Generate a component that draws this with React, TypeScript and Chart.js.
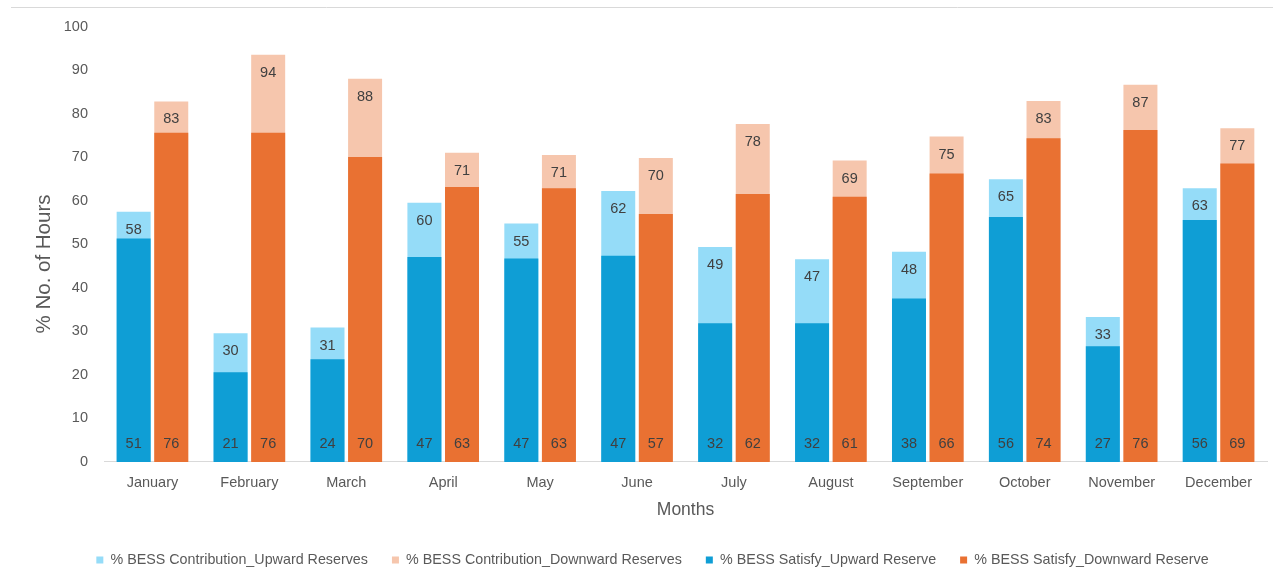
import React, { useEffect, useRef } from 'react';
import { Chart, registerables } from 'chart.js';

Chart.register(...registerables);

const months = ['January', 'February', 'March', 'April', 'May', 'June', 'July', 'August', 'September', 'October', 'November', 'December'];

const contributionUpward = [57.5, 29.6, 30.9, 59.6, 54.8, 62.3, 49.4, 46.6, 48.3, 65.0, 33.3, 62.9];
const contributionDownward = [82.9, 93.6, 88.1, 71.1, 70.6, 69.9, 77.7, 69.3, 74.8, 83.0, 86.7, 76.7];
const satisfyUpward = [51.4, 20.6, 23.6, 47.1, 46.8, 47.4, 31.9, 31.9, 37.6, 56.3, 26.6, 55.6];
const satisfyDownward = [75.7, 75.7, 70.1, 63.2, 62.9, 57.0, 61.6, 61.0, 66.3, 74.4, 76.3, 68.6];

const seriesNames = [
  '% BESS Contribution_Upward Reserves',
  '% BESS Contribution_Downward Reserves',
  '% BESS Satisfy_Upward Reserve',
  '% BESS Satisfy_Downward Reserve',
];

const yAxisTitle = '% No. of Hours';
const xAxisTitle = 'Months';

const FONT = "'Liberation Sans', Arial, sans-serif";
const TEXT = '#595959';
const LABEL = '#404040';

const decorPlugin = {
  id: 'decor',
  afterLayout(chart: any) {
    const lg = chart.legend;
    if (lg) {
      lg.left += 19;
      lg.right += 19;
    }
  },
  beforeDraw(chart: any) {
    const ctx = chart.ctx;
    ctx.save();
    ctx.strokeStyle = '#d9d9d9';
    ctx.lineWidth = 1;
    ctx.beginPath();
    ctx.moveTo(11, 7.5);
    ctx.lineTo(1273, 7.5);
    ctx.stroke();
    ctx.translate(44, 264);
    ctx.rotate(-Math.PI / 2);
    ctx.font = `20.5px ${FONT}`;
    ctx.fillStyle = TEXT;
    ctx.textAlign = 'center';
    ctx.textBaseline = 'middle';
    ctx.fillText(yAxisTitle, 0, 0);
    ctx.restore();
  },
  afterDatasetsDraw(chart: any) {
    const ctx = chart.ctx;
    ctx.save();
    ctx.font = `14.5px ${FONT}`;
    ctx.fillStyle = LABEL;
    ctx.textAlign = 'center';
    ctx.textBaseline = 'middle';
    chart.data.datasets.forEach((ds: any, i: number) => {
      const meta = chart.getDatasetMeta(i);
      meta.data.forEach((bar: any, j: number) => {
        const v = ds.data[j];
        const text = String(Math.round(v));
        const y = ds.labelPos === 'end' ? bar.y + 18 : bar.base - 18;
        ctx.fillText(text, bar.x, y);
      });
    });
    ctx.restore();
  },
};

export default function App() {
  const ref = useRef<HTMLCanvasElement>(null);

  useEffect(() => {
    if (!ref.current) return;
    const chart = new Chart(ref.current, {
      type: 'bar',
      data: {
        labels: months,
        datasets: [
          { label: seriesNames[0], data: contributionUpward, backgroundColor: '#95DCF8', stack: 'up', order: 2, labelPos: 'end' } as any,
          { label: seriesNames[1], data: contributionDownward, backgroundColor: '#F6C6AD', stack: 'down', order: 2, labelPos: 'end' } as any,
          { label: seriesNames[2], data: satisfyUpward, backgroundColor: '#0F9ED5', stack: 'up', order: 1, labelPos: 'base' } as any,
          { label: seriesNames[3], data: satisfyDownward, backgroundColor: '#E97132', stack: 'down', order: 1, labelPos: 'base' } as any,
        ],
      },
      options: {
        animation: false,
        responsive: false,
        categoryPercentage: 0.776,
        barPercentage: 0.904,
        layout: { padding: { top: 27, left: 0, right: 18, bottom: 1.75 } },
        scales: {
          x: {
            stacked: true,
            grid: { display: false, drawTicks: false },
            border: { display: true, color: '#d9d9d9', width: 1 },
            ticks: { color: TEXT, font: { family: FONT, size: 14.5 }, padding: 12, maxRotation: 0 },
            title: { display: true, text: xAxisTitle, color: TEXT, font: { family: FONT, size: 17.5 }, padding: { top: 0, bottom: 8.5 } },
            afterFit: (s: any) => { s.height = 67; },
          },
          y: {
            stacked: false,
            min: 0,
            max: 100,
            grid: { display: false, drawTicks: false },
            border: { display: false },
            ticks: { stepSize: 10, color: TEXT, font: { family: FONT, size: 14.5 }, padding: 16 },
            afterFit: (s: any) => { s.width = 104; },
          },
        },
        plugins: {
          legend: {
            position: 'bottom',
            labels: {
              boxWidth: 7,
              boxHeight: 7,
              padding: 24,
              color: TEXT,
              font: { family: FONT, size: 14.3 },
              sort: (a: any, b: any) => a.datasetIndex - b.datasetIndex,
            },
          },
          tooltip: { enabled: false },
        },
      } as any,
      plugins: [decorPlugin],
    });
    return () => chart.destroy();
  }, []);

  return (
    <div style={{ position: 'absolute', left: 0, top: 0, width: 1285, height: 579, background: '#fff' }}>
      <canvas ref={ref} width={1285} height={579} style={{ display: 'block' }} />
    </div>
  );
}
